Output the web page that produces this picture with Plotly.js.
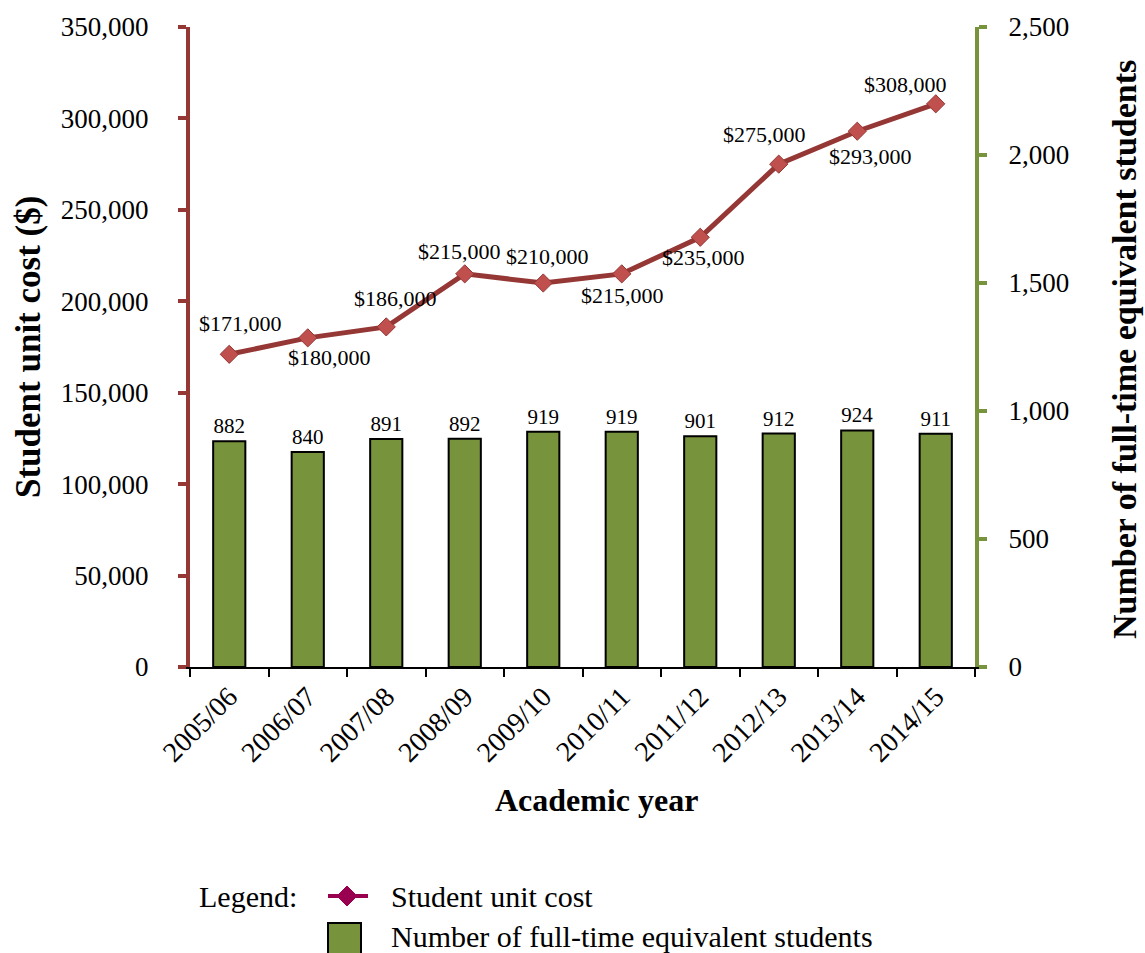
<!DOCTYPE html>
<html>
<head>
<meta charset="utf-8">
<script src="https://cdn.plot.ly/plotly-3.0.1.min.js"></script>
<style>html,body{margin:0;padding:0;background:#fff;}#chart{width:1145px;height:953px;}</style>
</head>
<body>
<div id="chart"></div>
<script>
// ---- data ----
const years = ['2005/06','2006/07','2007/08','2008/09','2009/10','2010/11','2011/12','2012/13','2013/14','2014/15'];
const unitCost = [171000,180000,186000,215000,210000,215000,235000,275000,293000,308000];
const fteStudents = [882,840,891,892,919,919,901,912,924,911];
const costTicks = [0,50000,100000,150000,200000,250000,300000,350000];
const fteTicks = [0,500,1000,1500,2000,2500];

// ---- style (label offsets in px: dx right, dy down) ----
const costLabelDx = [11,22,9,-5,4,1,3,-14,13,-30];
const costLabelDy = [-31,20,-28,-22,-27,22,20,-30,25,-19];

const FONT = '"Liberation Serif", "Times New Roman", Times, serif';
const RED = '#953735', RED_M = '#C0504D', GREEN = '#77933C', MAG = '#990050';

// plot geometry helpers (pixel -> paper) for decoration placement
const L = 190, R = 975, T = 27, B = 667;
const px = x => (x - L) / (R - L);
const py = y => (B - y) / (B - T);

const fmt = v => v.toLocaleString('en-US');

const bars = {
  type: 'bar', x: years, y: fteStudents, yaxis: 'y', xaxis: 'x',
  width: 0.41,
  marker: {color: GREEN, line: {color: '#000', width: 2}},
  text: fteStudents.map(fmt), textposition: 'outside', cliponaxis: false,
  textfont: {family: FONT, size: 21, color: '#000'},
  hoverinfo: 'x+y', showlegend: false
};
const line = {
  type: 'scatter', mode: 'lines+markers', x: years, y: unitCost, yaxis: 'y2', xaxis: 'x',
  line: {color: RED, width: 5},
  marker: {symbol: 'diamond', size: 14, color: RED_M, line: {color: RED, width: 1}},
  cliponaxis: false, showlegend: false
};

const annotations = unitCost.map((v, i) => ({
  x: years[i], y: v, xref: 'x', yref: 'y2', showarrow: false,
  xanchor: 'center', yanchor: 'middle',
  text: '$' + fmt(v), xshift: costLabelDx[i], yshift: -costLabelDy[i],
  font: {family: FONT, size: 22, color: '#000'}
}));

const paperText = (x, y, text, size, extra) => Object.assign({
  xref: 'paper', yref: 'paper', x: px(x), y: py(y), text: text, showarrow: false,
  xanchor: 'center', yanchor: 'middle', font: {family: FONT, size: size, color: '#000'}
}, extra || {});

annotations.push(
  paperText(28, 347, 'Student unit cost ($)', 35, {textangle: -90, font: {family: FONT, size: 35, color: '#000', weight: 'bold'}}),
  paperText(1124, 350, 'Number of full-time equivalent students', 34, {textangle: -90, font: {family: FONT, size: 34, color: '#000', weight: 'bold'}}),
  paperText(596, 800, 'Academic year', 32, {font: {family: FONT, size: 32, color: '#000', weight: 'bold'}}),
  paperText(197, 896, 'Legend:', 30, {xanchor: 'left'}),
  paperText(389, 896, 'Student unit cost', 30, {xanchor: 'left'}),
  paperText(389, 936, 'Number of full-time equivalent students', 30, {xanchor: 'left'})
);

const dcx = 347, dcy = 896, dh = 10;
const shapes = [
  {type: 'line', xref: 'paper', yref: 'paper', x0: px(328), x1: px(368), y0: py(896), y1: py(896),
   line: {color: MAG, width: 4}},
  {type: 'path', xref: 'paper', yref: 'paper',
   path: `M ${px(dcx)} ${py(dcy - dh)} L ${px(dcx + dh)} ${py(dcy)} L ${px(dcx)} ${py(dcy + dh)} L ${px(dcx - dh)} ${py(dcy)} Z`,
   fillcolor: MAG, line: {color: MAG, width: 1}},
  {type: 'rect', xref: 'paper', yref: 'paper', x0: px(328), x1: px(361), y0: py(923), y1: py(956),
   fillcolor: GREEN, line: {color: '#000', width: 2}}
];

const layout = {
  width: 1145, height: 953,
  margin: {l: L, r: 1145 - R, t: T, b: 953 - B, pad: 0},
  paper_bgcolor: '#fff', plot_bgcolor: '#fff',
  font: {family: FONT, color: '#000'},
  showlegend: false,
  bargap: 0.59,
  xaxis: {
    type: 'category', range: [-0.5, 9.5], tickson: 'boundaries',
    ticks: 'outside', ticklen: 8, tickwidth: 2, tickcolor: '#000',
    showline: true, linecolor: '#000', linewidth: 2, showgrid: false, zeroline: false,
    tickangle: -45, tickfont: {family: FONT, size: 28, color: '#000'}, fixedrange: true
  },
  yaxis: {
    side: 'right', range: [0, 2500], tickvals: fteTicks, ticktext: fteTicks.map(fmt),
    ticks: 'outside', ticklen: 8, tickwidth: 4, tickcolor: GREEN,
    showline: true, linecolor: GREEN, linewidth: 4, showgrid: false, zeroline: false,
    ticklabelstandoff: 16,
    tickfont: {family: FONT, size: 27, color: '#000'}, fixedrange: true
  },
  yaxis2: {
    side: 'left', overlaying: 'y', range: [0, 350000], tickvals: costTicks, ticktext: costTicks.map(fmt),
    ticks: 'outside', ticklen: 8, tickwidth: 4, tickcolor: RED,
    showline: true, linecolor: RED, linewidth: 4, showgrid: false, zeroline: false,
    ticklabelstandoff: 24,
    tickfont: {family: FONT, size: 27, color: '#000'}, fixedrange: true
  },
  annotations: annotations,
  shapes: shapes
};

Plotly.newPlot('chart', [bars, line], layout, {displayModeBar: false, staticPlot: true});
</script>
</body>
</html>
